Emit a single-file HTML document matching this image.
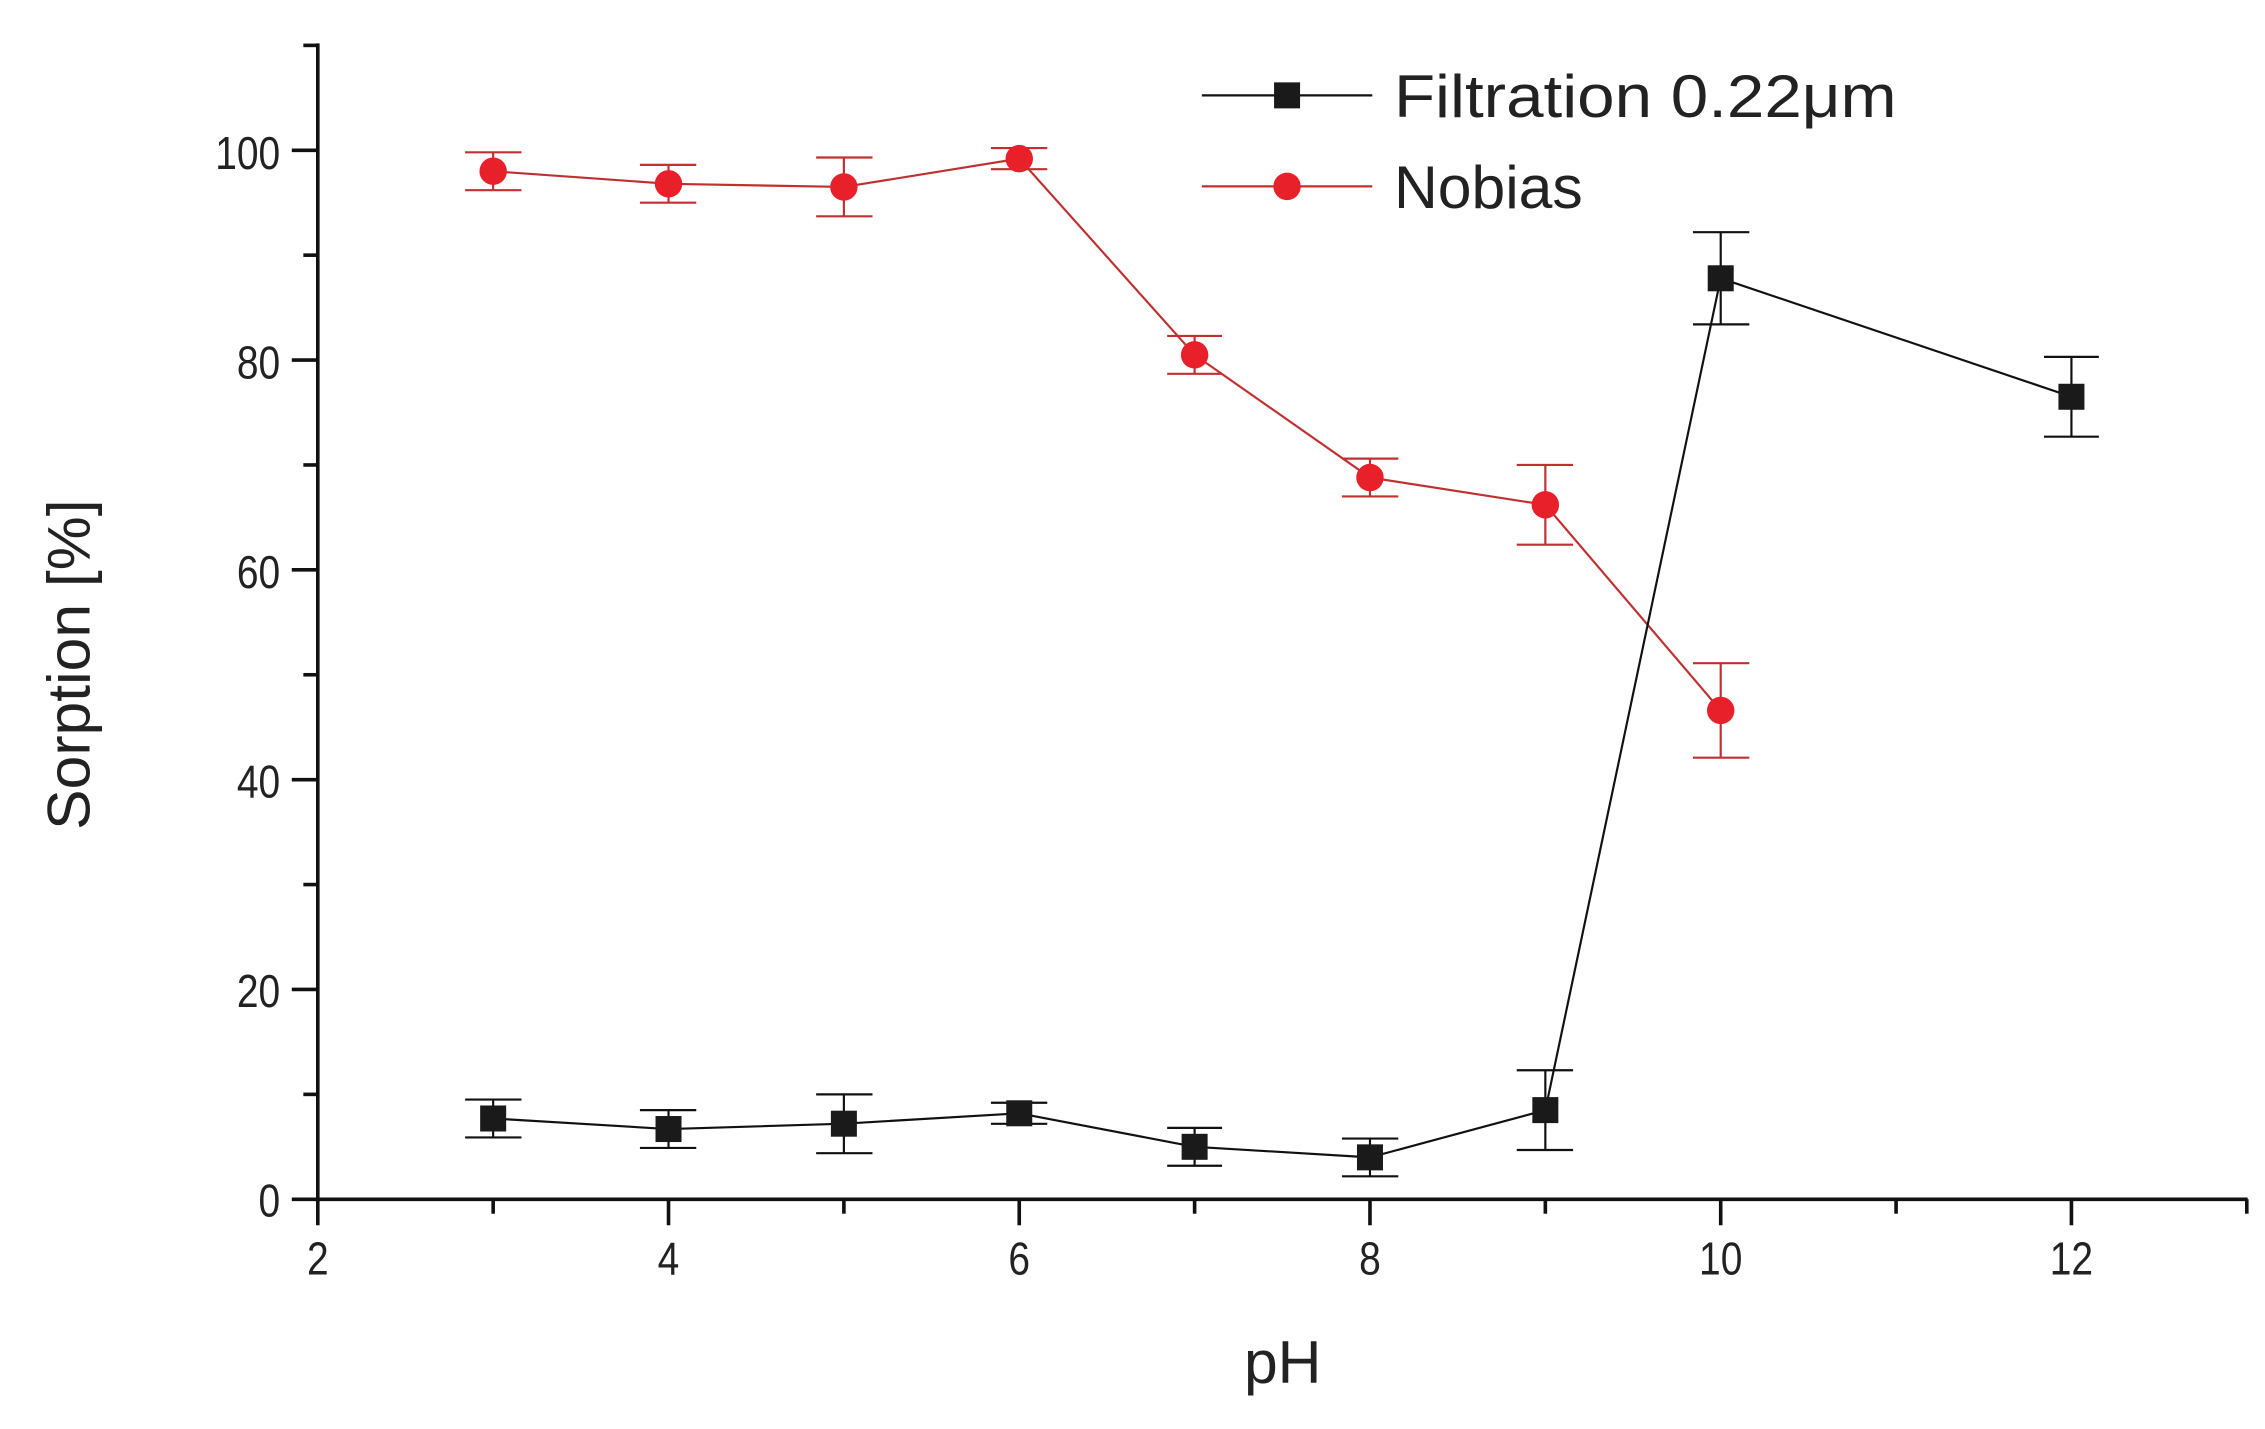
<!DOCTYPE html>
<html><head><style>html,body{margin:0;padding:0;background:#fff}svg{display:block}</style></head>
<body>
<svg width="2265" height="1429" viewBox="0 0 1568 989" preserveAspectRatio="none" xmlns="http://www.w3.org/2000/svg" font-family="Liberation Sans, sans-serif">
<g stroke="#111" stroke-width="2.5" fill="none">
<line x1="220" y1="30" x2="220" y2="832"/>
<line x1="218" y1="830" x2="1556" y2="830"/>
<line x1="220" y1="830" x2="220" y2="848"/><line x1="341.4" y1="830" x2="341.4" y2="840"/>
<line x1="462.8" y1="830" x2="462.8" y2="848"/><line x1="584.2" y1="830" x2="584.2" y2="840"/>
<line x1="705.6" y1="830" x2="705.6" y2="848"/><line x1="827" y1="830" x2="827" y2="840"/>
<line x1="948.4" y1="830" x2="948.4" y2="848"/><line x1="1069.8" y1="830" x2="1069.8" y2="840"/>
<line x1="1191.2" y1="830" x2="1191.2" y2="848"/><line x1="1312.6" y1="830" x2="1312.6" y2="840"/>
<line x1="1434" y1="830" x2="1434" y2="848"/><line x1="1555.4" y1="830" x2="1555.4" y2="840"/>
<line x1="202" y1="830" x2="220" y2="830"/><line x1="210" y1="757.4" x2="220" y2="757.4"/>
<line x1="202" y1="684.8" x2="220" y2="684.8"/><line x1="210" y1="612.2" x2="220" y2="612.2"/>
<line x1="202" y1="539.6" x2="220" y2="539.6"/><line x1="210" y1="467" x2="220" y2="467"/>
<line x1="202" y1="394.4" x2="220" y2="394.4"/><line x1="210" y1="321.8" x2="220" y2="321.8"/>
<line x1="202" y1="249.2" x2="220" y2="249.2"/><line x1="210" y1="176.6" x2="220" y2="176.6"/>
<line x1="202" y1="104" x2="220" y2="104"/><line x1="210" y1="31.4" x2="220" y2="31.4"/>
</g>
<g font-size="32" fill="#222" text-anchor="end" lengthAdjust="spacingAndGlyphs">
<text x="194" y="842" textLength="15" lengthAdjust="spacingAndGlyphs">0</text>
<text x="194" y="697" textLength="30" lengthAdjust="spacingAndGlyphs">20</text>
<text x="194" y="552" textLength="30" lengthAdjust="spacingAndGlyphs">40</text>
<text x="194" y="407" textLength="30" lengthAdjust="spacingAndGlyphs">60</text>
<text x="194" y="262" textLength="30" lengthAdjust="spacingAndGlyphs">80</text>
<text x="194" y="117" textLength="45" lengthAdjust="spacingAndGlyphs">100</text>
</g>
<g font-size="32" fill="#222" text-anchor="middle">
<text x="220" y="882" textLength="15" lengthAdjust="spacingAndGlyphs">2</text>
<text x="462.8" y="882" textLength="15" lengthAdjust="spacingAndGlyphs">4</text>
<text x="705.6" y="882" textLength="15" lengthAdjust="spacingAndGlyphs">6</text>
<text x="948.4" y="882" textLength="15" lengthAdjust="spacingAndGlyphs">8</text>
<text x="1191.2" y="882" textLength="30" lengthAdjust="spacingAndGlyphs">10</text>
<text x="1434" y="882" textLength="30" lengthAdjust="spacingAndGlyphs">12</text>
</g>
<text x="888" y="957" font-size="42" text-anchor="middle" fill="#222">pH</text>
<text transform="translate(62,460) rotate(-90)" font-size="42" text-anchor="middle" fill="#222">Sorption [%]</text>

<g stroke="#c03030" stroke-width="1.5" fill="none">
<polyline points="341.4,118.5 462.8,127.2 584.2,129.4 705.6,109.8 827,245.6 948.4,330.5 1069.8,349.4 1191.2,491.7"/>
<path d="M341.4,105.4V131.6M322,105.4H361M322,131.6H361
M462.8,114.1V140.3M443,114.1H482M443,140.3H482
M584.2,109V149.7M565,109H604M565,149.7H604
M705.6,102.5V117.1M686,102.5H725M686,117.1H725
M827,232.5V258.7M808,232.5H846M808,258.7H846
M948.4,317.4V343.6M929,317.4H968M929,343.6H968
M1069.8,321.8V377M1050,321.8H1089M1050,377H1089
M1191.2,459V524.4M1172,459H1211M1172,524.4H1211"/>
</g>
<g fill="#e8202a">
<circle cx="341.4" cy="118.5" r="9.5"/><circle cx="462.8" cy="127.2" r="9.5"/>
<circle cx="584.2" cy="129.4" r="9.5"/><circle cx="705.6" cy="109.8" r="9.5"/>
<circle cx="827" cy="245.6" r="9.5"/><circle cx="948.4" cy="330.5" r="9.5"/>
<circle cx="1069.8" cy="349.4" r="9.5"/><circle cx="1191.2" cy="491.7" r="9.5"/>
</g>

<g stroke="#111" stroke-width="1.5" fill="none">
<polyline points="341.4,774.1 462.8,781.4 584.2,777.7 705.6,770.5 827,793.7 948.4,801 1069.8,768.3 1191.2,192.6 1434,274.6"/>
<path d="M341.4,761V787.2M322,761H361M322,787.2H361
M462.8,768.3V794.5M443,768.3H482M443,794.5H482
M584.2,757.4V798.1M565,757.4H604M565,798.1H604
M705.6,763.2V777.8M686,763.2H725M686,777.8H725
M827,780.6V806.8M808,780.6H846M808,806.8H846
M948.4,788V814.1M929,788H968M929,814.1H968
M1069.8,740.7V795.9M1050,740.7H1089M1050,795.9H1089
M1191.2,160.7V224.5M1172,160.7H1211M1172,224.5H1211
M1434,247V302.2M1415,247H1453M1415,302.2H1453"/>
</g>
<g fill="#1a1a1a">
<rect x="332.4" y="765.1" width="18" height="18"/><rect x="453.8" y="772.4" width="18" height="18"/>
<rect x="575.2" y="768.7" width="18" height="18"/><rect x="696.6" y="761.5" width="18" height="18"/>
<rect x="818" y="784.7" width="18" height="18"/><rect x="939.4" y="792" width="18" height="18"/>
<rect x="1060.8" y="759.3" width="18" height="18"/><rect x="1182.2" y="183.6" width="18" height="18"/>
<rect x="1425" y="265.6" width="18" height="18"/>
</g>

<line x1="832" y1="66" x2="950" y2="66" stroke="#111" stroke-width="1.5"/>
<rect x="882" y="57" width="18" height="18" fill="#1a1a1a"/>
<text x="965" y="81" font-size="42" fill="#222" textLength="348" lengthAdjust="spacingAndGlyphs">Filtration 0.22μm</text>
<line x1="832" y1="129" x2="950" y2="129" stroke="#c03030" stroke-width="1.5"/>
<circle cx="891" cy="129" r="9.5" fill="#e8202a"/>
<text x="965" y="144" font-size="42" fill="#222">Nobias</text>
</svg>
</body></html>
